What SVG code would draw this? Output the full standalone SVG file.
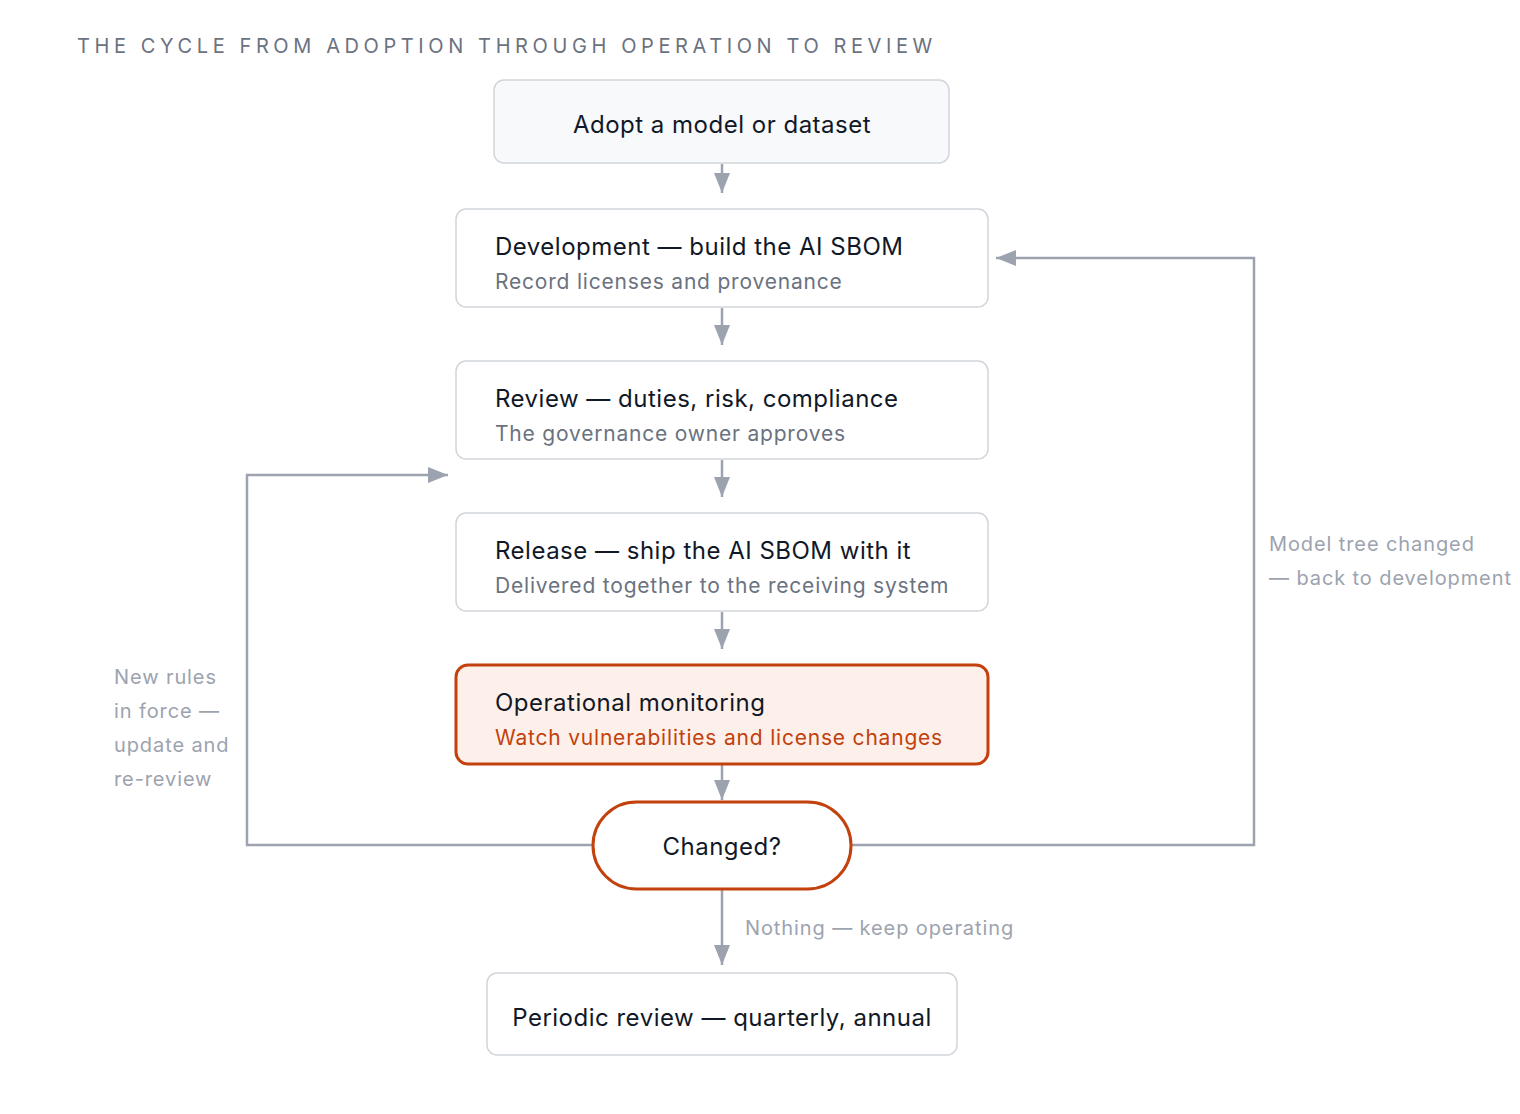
<svg xmlns="http://www.w3.org/2000/svg" width="1520" height="1114" viewBox="0 0 1520 1114">
<style>
text{font-family:Inter,"Noto Sans",sans-serif}
.box{fill:#fff;stroke:#d1d5db;stroke-width:1.5}
.t{font-size:24px;fill:#111827;letter-spacing:0.5px}
.s{font-size:21px;fill:#6b7280;letter-spacing:0.8px}
.l{font-size:20px;fill:#9ca3af;letter-spacing:0.9px}
.c{fill:none;stroke:#9ca3af;stroke-width:2.5}
</style>
<defs><marker id="b" viewBox="0 0 10 10" refX="10" refY="5" markerWidth="20" markerHeight="20" markerUnits="userSpaceOnUse" orient="auto"><path d="M0,1L10,5L0,9z" fill="#9ca3af"/></marker></defs>
<rect width="1520" height="1114" fill="#fff"/>
<text x="77" y="53" style="font-size:20px;fill:#6b7280;letter-spacing:4.6px">THE CYCLE FROM ADOPTION THROUGH OPERATION TO REVIEW</text>
<g id="connectors">
<line class="c" x1="722" y1="164" x2="722" y2="193" marker-end="url(#b)"/>
<line class="c" x1="722" y1="308" x2="722" y2="345" marker-end="url(#b)"/>
<line class="c" x1="722" y1="460" x2="722" y2="497" marker-end="url(#b)"/>
<line class="c" x1="722" y1="612" x2="722" y2="649" marker-end="url(#b)"/>
<line class="c" x1="722" y1="765" x2="722" y2="800" marker-end="url(#b)"/>
<line class="c" x1="722" y1="890" x2="722" y2="965" marker-end="url(#b)"/>
<polyline class="c" points="593,845 247,845 247,475 448,475" marker-end="url(#b)"/>
<polyline class="c" points="851,845 1254,845 1254,258 996,258" marker-end="url(#b)"/>
<text class="l" x="745" y="935">Nothing — keep operating</text>
<text class="l" x="114" y="684">New rules</text>
<text class="l" x="114" y="718">in force —</text>
<text class="l" x="114" y="752">update and</text>
<text class="l" x="114" y="786">re-review</text>
<text class="l" x="1269" y="551">Model tree changed</text>
<text class="l" x="1269" y="585">— back to development</text>
</g>
<g id="adopt"><rect x="494" y="80" width="455" height="83" rx="10" class="box" style="fill:#f8f9fb"/><text class="t" x="722" y="133" text-anchor="middle">Adopt a model or dataset</text></g>
<g id="dev"><rect x="456" y="209" width="532" height="98" rx="10" class="box"/><text class="t" x="495" y="255">Development — build the AI SBOM</text><text class="s" x="495" y="289">Record licenses and provenance</text></g>
<g id="review"><rect x="456" y="361" width="532" height="98" rx="10" class="box"/><text class="t" x="495" y="407">Review — duties, risk, compliance</text><text class="s" x="495" y="441">The governance owner approves</text></g>
<g id="release"><rect x="456" y="513" width="532" height="98" rx="10" class="box"/><text class="t" x="495" y="559">Release — ship the AI SBOM with it</text><text class="s" x="495" y="593">Delivered together to the receiving system</text></g>
<g id="ops"><rect x="456" y="665" width="532" height="99" rx="12" style="fill:#fdf0ea;stroke:#c2410c;stroke-width:3"/><text class="t" x="495" y="711">Operational monitoring</text><text class="s" x="495" y="745" style="fill:#c2410c">Watch vulnerabilities and license changes</text></g>
<g id="changed"><rect x="593" y="802" width="258" height="87" rx="43.5" style="fill:#fff;stroke:#c2410c;stroke-width:3"/><text class="t" x="722" y="855" text-anchor="middle">Changed?</text></g>
<g id="periodic"><rect x="487" y="973" width="470" height="82" rx="10" class="box"/><text class="t" x="722" y="1026" text-anchor="middle">Periodic review — quarterly, annual</text></g>
</svg>
